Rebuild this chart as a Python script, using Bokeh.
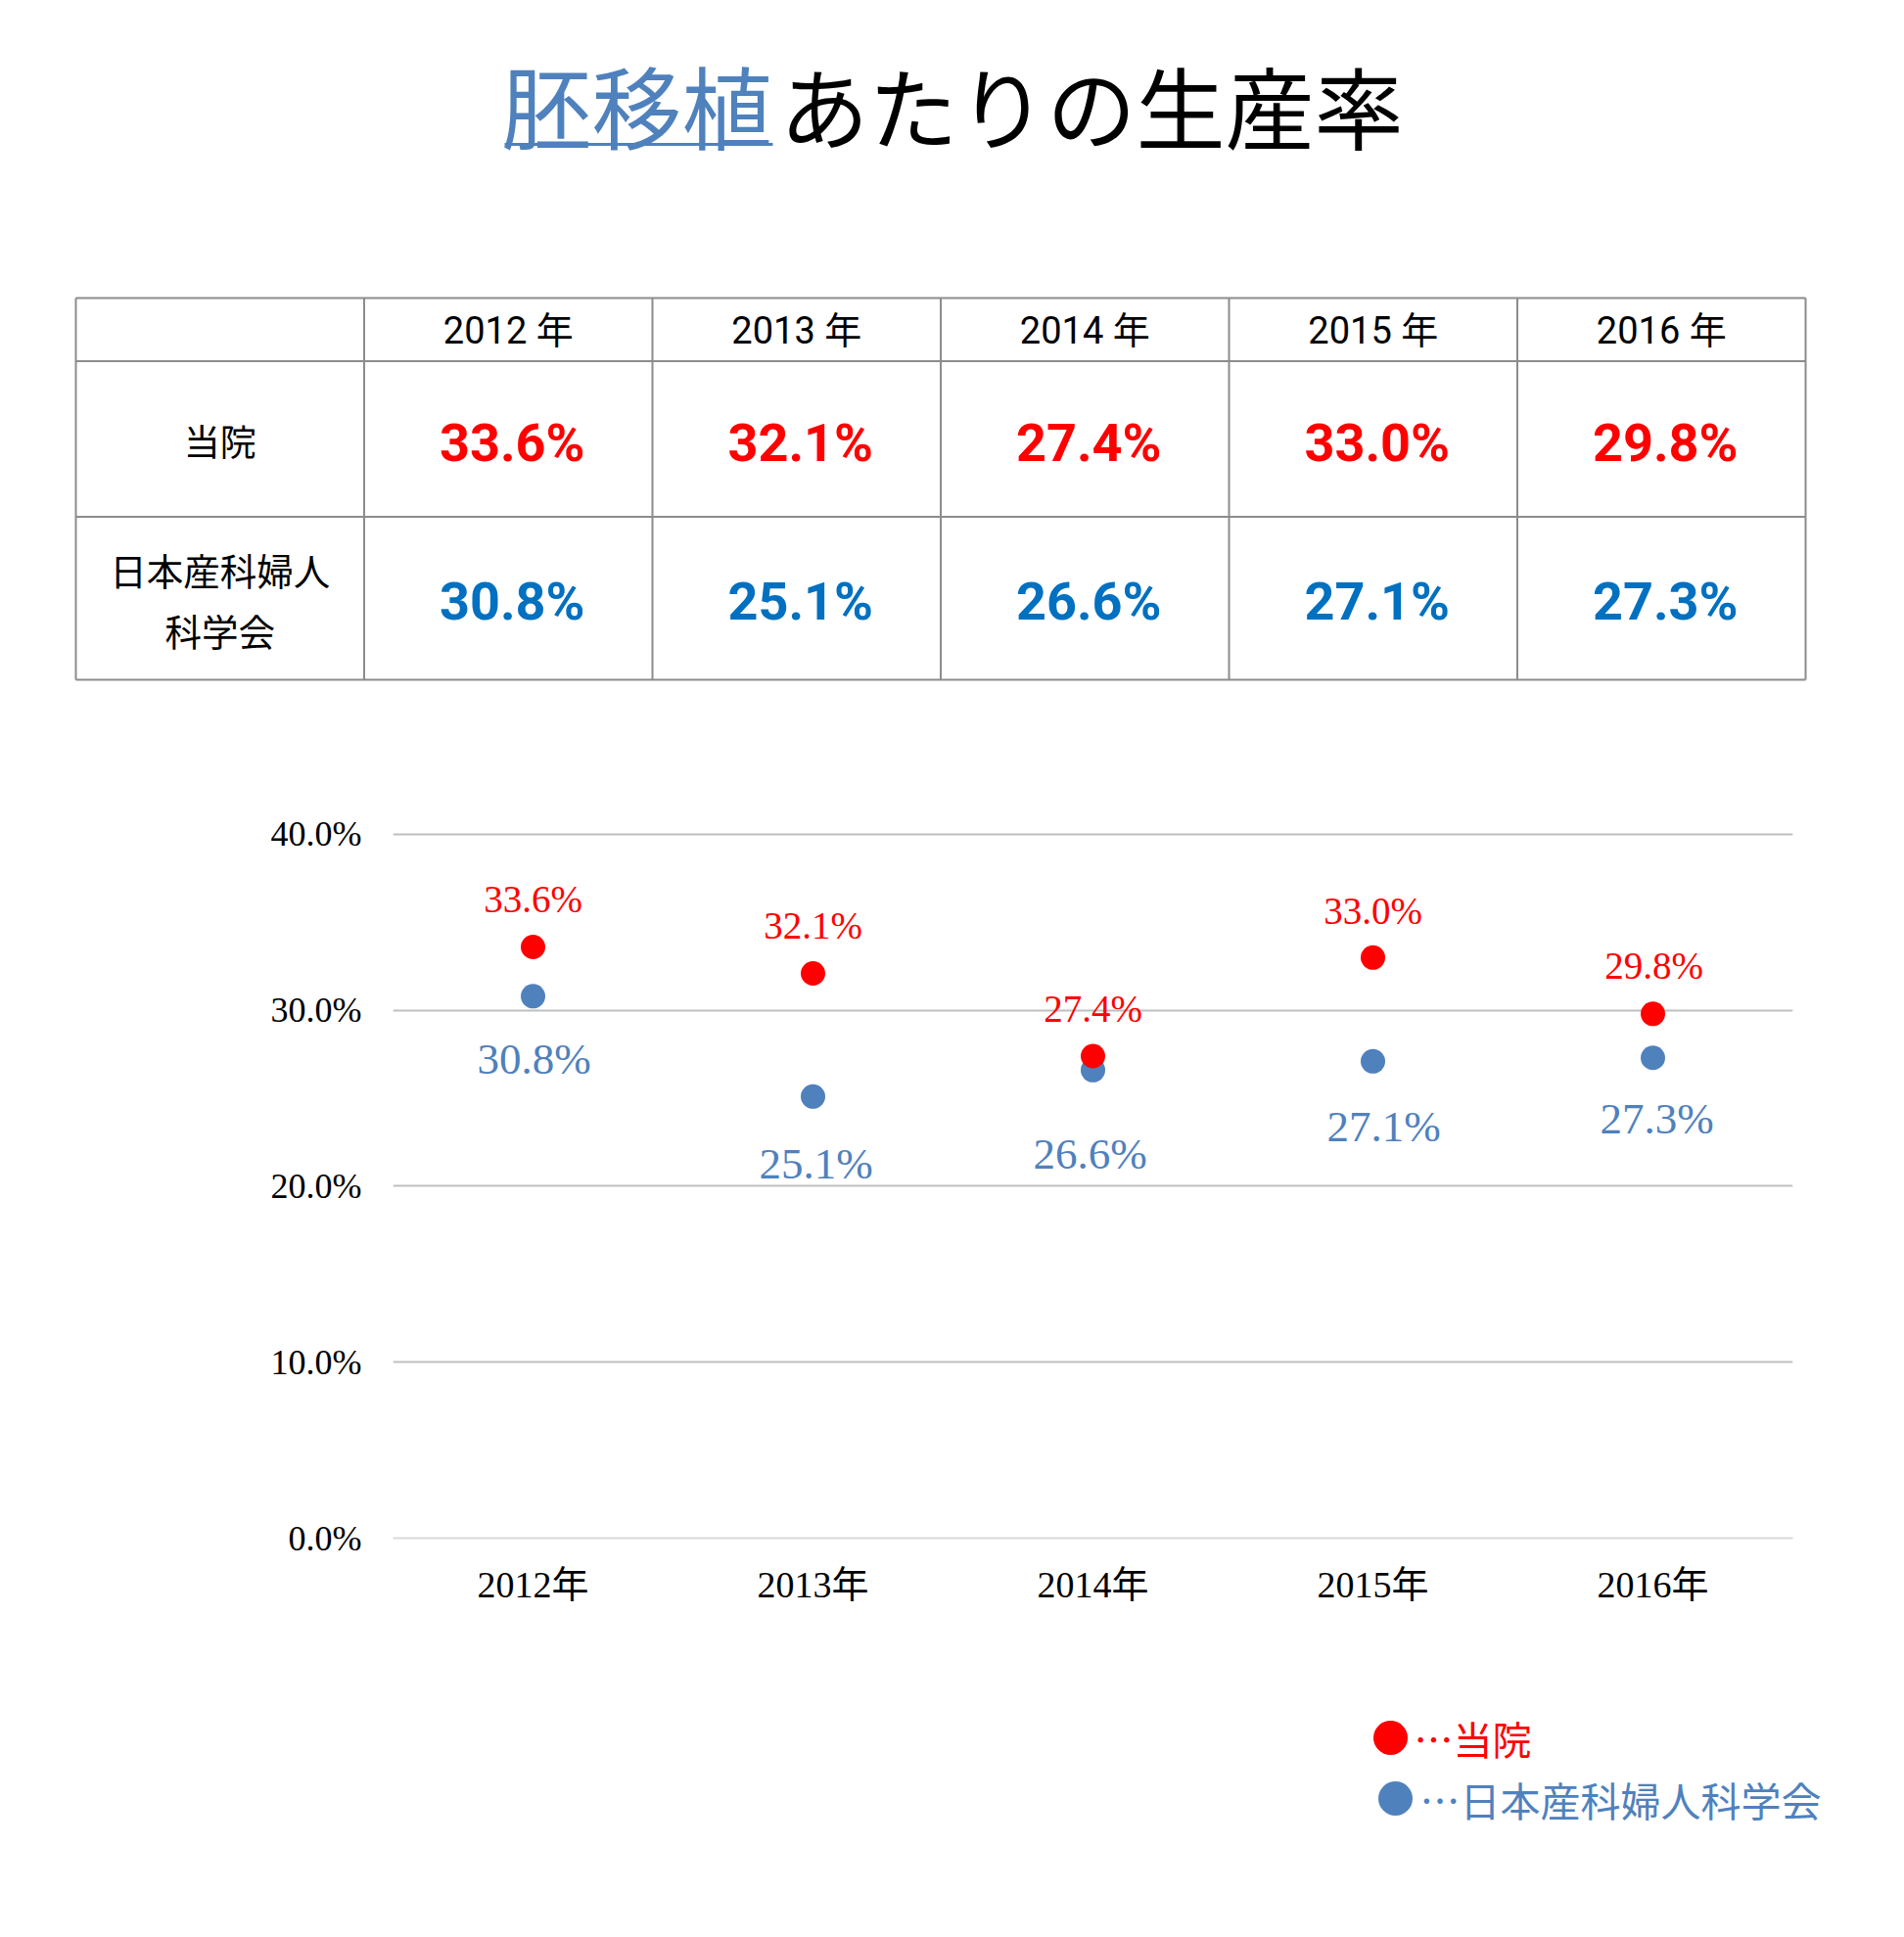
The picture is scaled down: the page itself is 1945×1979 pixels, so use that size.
from bokeh.plotting import figure
from bokeh.models import Range1d, FactorRange, FixedTicker, NumeralTickFormatter, ColumnDataSource
from bokeh.layouts import column
from bokeh.embed import file_html
from bokeh.resources import INLINE
from bokeh.core.properties import value

# ---------------- data ----------------
years = ["2012", "2013", "2014", "2015", "2016"]
table_headers = [f"{y} 年" for y in years]
axis_labels = [f"{y}年" for y in years]
hospital_rate = [0.336, 0.321, 0.274, 0.330, 0.298]
jsog_rate = [0.308, 0.251, 0.266, 0.271, 0.273]
hospital_name = "当院"
jsog_name = "日本産科婦人科学会"
jsog_name_lines = ["日本産科婦人", "科学会"]
title_link = "胚移植"
title_rest = "あたりの生産率"
y_ticks = [0.0, 0.1, 0.2, 0.3, 0.4]

# ---------------- styles ----------------
RED = "#FF0000"
TABLE_BLUE = "#0070C0"
SERIES_BLUE = "#4F81BD"
GRID = "#BFBFBF"
TABLE_LINE = "#8C8C8C"
CJK = "Noto Sans CJK JP"
NARROW = "Roboto, 'Noto Sans CJK JP'"
SERIF = "'Liberation Serif', 'Noto Sans CJK JP'"

W = 1937


def pct(v):
    return f"{v * 100:.1f}%"


def blank_fig(top_y, h):
    f = figure(width=W, height=h, x_range=Range1d(0, W), y_range=Range1d(top_y + h, top_y),
               output_backend="svg", toolbar_location=None, min_border=0,
               x_axis_type=None, y_axis_type=None, frame_align=False)
    f.outline_line_color = None
    return f


# ---------------- title + table ----------------
TOP_H = 748
top = blank_fig(0, TOP_H)

top.text(x=[512], y=[105], text=[title_link], text_font=value(CJK), text_font_size="92px",
         text_color=SERIES_BLUE, text_baseline="middle", text_align="left")
top.text(x=[796], y=[105], text=[title_rest], text_font=value(CJK), text_font_size="91px",
         text_color="#000000", text_baseline="middle", text_align="left")
top.segment(x0=[515], y0=[147], x1=[789], y1=[147], line_color=SERIES_BLUE, line_width=3)

tbl_left, col_w = 77, 294.5
row_edges = [304, 368.6, 527.6, 694]
ncol = len(years) + 1
col_edges = [tbl_left + i * col_w for i in range(ncol + 1)]
top.segment(x0=col_edges, y0=[row_edges[0]] * len(col_edges), x1=col_edges,
            y1=[row_edges[-1]] * len(col_edges), line_color=TABLE_LINE, line_width=2)
top.segment(x0=[col_edges[0]] * len(row_edges), y0=row_edges, x1=[col_edges[-1]] * len(row_edges),
            y1=row_edges, line_color=TABLE_LINE, line_width=2)

col_c = [(col_edges[i] + col_edges[i + 1]) / 2 for i in range(ncol)]
row_c = [(row_edges[i] + row_edges[i + 1]) / 2 + 1.5 for i in range(3)]

top.text(x=col_c[1:], y=[row_c[0]] * len(years), text=table_headers, text_font=value(NARROW),
         text_font_size="38px", text_color="#000000", text_align="center", text_baseline="middle")
top.text(x=[c + 4 for c in col_c[1:]], y=[row_c[1] + 2] * len(years), text=[pct(v) for v in hospital_rate],
         text_font=value(NARROW), text_font_size="54px", text_font_style="bold",
         text_color=RED, text_align="center", text_baseline="middle")
top.text(x=[c + 4 for c in col_c[1:]], y=[row_c[2] + 2] * len(years), text=[pct(v) for v in jsog_rate],
         text_font=value(NARROW), text_font_size="54px", text_font_style="bold",
         text_color=TABLE_BLUE, text_align="center", text_baseline="middle")
top.text(x=[col_c[0]], y=[row_c[1]], text=[hospital_name], text_font=value(CJK),
         text_font_size="37px", text_color="#000000", text_align="center", text_baseline="middle")
top.text(x=[col_c[0]] * 2, y=[row_c[2] - 31, row_c[2] + 31], text=jsog_name_lines,
         text_font=value(CJK), text_font_size="37.5px", text_color="#000000",
         text_align="center", text_baseline="middle")

# ---------------- chart ----------------
CHART_TOP = TOP_H
CHART_H = 923
chart = figure(width=W, height=CHART_H, x_range=FactorRange(*axis_labels, range_padding=0),
               y_range=Range1d(0, 0.41), output_backend="svg", toolbar_location=None,
               min_border_left=401, min_border_right=W - 1831, min_border_top=86,
               min_border_bottom=100, frame_align=False)
chart.outline_line_color = None
chart.xgrid.visible = False
chart.ygrid.ticker = FixedTicker(ticks=y_ticks[1:])
chart.ygrid.grid_line_color = GRID
chart.ygrid.grid_line_width = 2

chart.yaxis.ticker = FixedTicker(ticks=y_ticks)
chart.yaxis.formatter = NumeralTickFormatter(format="0.0%")
chart.yaxis.axis_line_color = None
chart.yaxis.major_tick_line_color = None
chart.yaxis.minor_tick_line_color = None
chart.yaxis.major_tick_out = 0
chart.yaxis.major_tick_in = 0
chart.yaxis.major_label_standoff = 32
chart.yaxis.major_label_text_font = SERIF
chart.yaxis.major_label_text_font_size = "36px"
chart.yaxis.major_label_text_color = "#000000"

chart.xaxis.axis_line_color = "#D9D9D9"
chart.xaxis.axis_line_width = 2
chart.xaxis.major_tick_line_color = None
chart.xaxis.minor_tick_line_color = None
chart.xaxis.major_tick_out = 0
chart.xaxis.major_tick_in = 0
chart.xaxis.major_label_standoff = 26
chart.xaxis.major_label_text_font = SERIF
chart.xaxis.major_label_text_font_size = "38px"
chart.xaxis.major_label_text_color = "#000000"

blue_src = ColumnDataSource(dict(x=axis_labels, y=jsog_rate, t=[pct(v) for v in jsog_rate],
                                 dx=[1, 3, -3, 11, 4], dy=[64, 69, 86, 67, 62]))
red_src = ColumnDataSource(dict(x=axis_labels, y=hospital_rate, t=[pct(v) for v in hospital_rate],
                                dx=[0, 0, 0, 0, 1], dy=[-49, -49, -48, -48, -49]))

chart.scatter(x="x", y="y", source=blue_src, size=25, fill_color=SERIES_BLUE, line_color=None)
chart.scatter(x="x", y="y", source=red_src, size=25, fill_color=RED, line_color=None)
chart.text(x="x", y="y", text="t", source=blue_src, x_offset="dx", y_offset="dy",
           text_font=value(SERIF), text_font_size="45px", text_color=SERIES_BLUE,
           text_align="center", text_baseline="middle")
chart.text(x="x", y="y", text="t", source=red_src, x_offset="dx", y_offset="dy",
           text_font=value(SERIF), text_font_size="39px", text_color=RED,
           text_align="center", text_baseline="middle")

# ---------------- legend ----------------
LEG_TOP = CHART_TOP + CHART_H
LEG_H = 260
leg = blank_fig(LEG_TOP, LEG_H)
leg.scatter(x=[1420, 1425], y=[1775, 1837], size=35, fill_color=[RED, SERIES_BLUE], line_color=None)
leg.text(x=[1444], y=[1775], text=["…" + hospital_name], text_font=value(CJK), text_font_size="40px",
         text_color=RED, text_align="left", text_baseline="middle")
leg.text(x=[1450], y=[1837], text=["…" + jsog_name], text_font=value(CJK), text_font_size="41px",
         text_color=SERIES_BLUE, text_align="left", text_baseline="middle")

layout = column(top, chart, leg, spacing=0)
open("out.html", "w").write(file_html(layout, INLINE))
